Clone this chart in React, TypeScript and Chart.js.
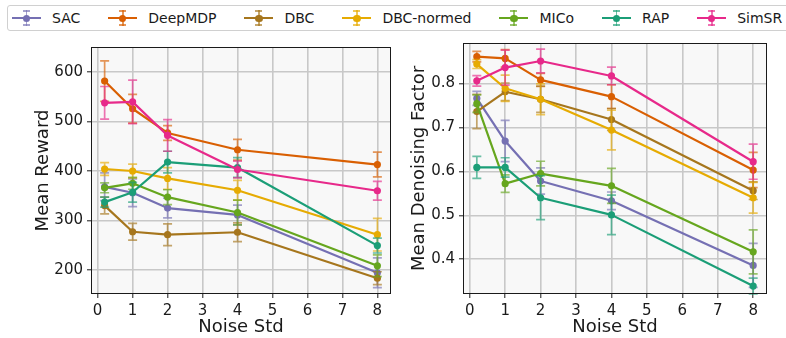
import React, { useEffect, useRef } from "react";
import { Chart, registerables } from "chart.js";

Chart.register(...registerables);

// ---------- data ----------
const noiseStd = [0.2, 1, 2, 4, 8];
const methods = ["SAC", "DeepMDP", "DBC", "DBC-normed", "MICo", "RAP", "SimSR"];
const colors = ["#7570b3", "#d95f02", "#a6761d", "#e6ab02", "#66a61e", "#1b9e77", "#e7298a"];

// Mean Reward
const rewardSAC = [368, 356, 325, 311, 194];
const rewardSACErr = [28, 28, 20, 20, 30];
const rewardDeepMDP = [582, 526, 477, 443, 413];
const rewardDeepMDPErr = [41, 29, 15, 21, 25];
const rewardDBC = [330, 277, 271, 276, 183];
const rewardDBCErr = [17, 17, 22, 19, 13];
const rewardDBCnormed = [404, 400, 385, 361, 271];
const rewardDBCnormedErr = [13, 14, 22, 20, 33];
const rewardMICo = [366, 375, 347, 316, 208];
const rewardMICoErr = [10, 12, 15, 25, 22];
const rewardRAP = [337, 357, 418, 407, 249];
const rewardRAPErr = [10, 20, 22, 20, 15];
const rewardSimSR = [538, 540, 472, 403, 360];
const rewardSimSRErr = [33, 44, 32, 17, 19];

// Mean Denoising Factor
const denoiseSAC = [0.766, 0.669, 0.578, 0.533, 0.386];
const denoiseSACErr = [0.016, 0.047, 0.03, 0.02, 0.05];
const denoiseDeepMDP = [0.861, 0.857, 0.808, 0.77, 0.603];
const denoiseDeepMDPErr = [0.012, 0.02, 0.015, 0.027, 0.04];
const denoiseDBC = [0.736, 0.781, 0.764, 0.718, 0.556];
const denoiseDBCErr = [0.039, 0.02, 0.03, 0.025, 0.02];
const denoiseDBCnormed = [0.844, 0.789, 0.764, 0.694, 0.54];
const denoiseDBCnormedErr = [0.01, 0.03, 0.035, 0.045, 0.035];
const denoiseMICo = [0.754, 0.572, 0.595, 0.567, 0.417];
const denoiseMICoErr = [0.02, 0.02, 0.028, 0.04, 0.05];
const denoiseRAP = [0.609, 0.609, 0.54, 0.501, 0.339];
const denoiseRAPErr = [0.025, 0.022, 0.05, 0.045, 0.018];
const denoiseSimSR = [0.806, 0.836, 0.851, 0.817, 0.622];
const denoiseSimSRErr = [0.012, 0.04, 0.027, 0.02, 0.04];

const xTicks = [0, 1, 2, 3, 4, 5, 6, 7, 8];
const rewardTicks = [200, 300, 400, 500, 600];
const denoiseTicks = [0.4, 0.5, 0.6, 0.7, 0.8];

const rewardMeans = [rewardSAC, rewardDeepMDP, rewardDBC, rewardDBCnormed, rewardMICo, rewardRAP, rewardSimSR];
const rewardErrs = [rewardSACErr, rewardDeepMDPErr, rewardDBCErr, rewardDBCnormedErr, rewardMICoErr, rewardRAPErr, rewardSimSRErr];
const denoiseMeans = [denoiseSAC, denoiseDeepMDP, denoiseDBC, denoiseDBCnormed, denoiseMICo, denoiseRAP, denoiseSimSR];
const denoiseErrs = [denoiseSACErr, denoiseDeepMDPErr, denoiseDBCErr, denoiseDBCnormedErr, denoiseMICoErr, denoiseRAPErr, denoiseSimSRErr];

const FONT = "'DejaVu Sans', sans-serif";
const TEXT = "#1a1a1a";

function hexA(hex: string, a: number) {
  const r = parseInt(hex.slice(1, 3), 16);
  const g = parseInt(hex.slice(3, 5), 16);
  const b = parseInt(hex.slice(5, 7), 16);
  return `rgba(${r},${g},${b},${a})`;
}

const framePlugin = {
  id: "frame",
  beforeDraw(chart: any) {
    const { ctx, chartArea: a } = chart;
    ctx.save();
    ctx.fillStyle = "#f8f8f8";
    ctx.fillRect(a.left, a.top, a.right - a.left, a.bottom - a.top);
    ctx.restore();
  },
  afterDatasetsDraw(chart: any) {
    const { ctx, chartArea: a } = chart;
    ctx.save();
    ctx.strokeStyle = "#1a1a1a";
    ctx.lineWidth = 1;
    ctx.strokeRect(Math.round(a.left) + 0.5, Math.round(a.top) + 0.5, Math.round(a.right - a.left) - 1, Math.round(a.bottom - a.top) - 1);
    ctx.restore();
  },
};

const errorBarPlugin = {
  id: "errorBars",
  beforeDatasetDraw(chart: any, args: any) {
    const ds = chart.data.datasets[args.index];
    const errs: number[] = ds.errors;
    if (!errs) return;
    const yScale = chart.scales.y;
    const { ctx } = chart;
    ctx.save();
    ctx.strokeStyle = hexA(ds.borderColor, 0.65);
    ctx.lineWidth = 1.7;
    args.meta.data.forEach((pt: any, i: number) => {
      const v = ds.data[i].y;
      const e = errs[i];
      const x = pt.x;
      const yt = yScale.getPixelForValue(v + e);
      const yb = yScale.getPixelForValue(v - e);
      const cap = 4.5;
      ctx.beginPath();
      ctx.moveTo(x, yt);
      ctx.lineTo(x, yb);
      ctx.moveTo(x - cap, yt);
      ctx.lineTo(x + cap, yt);
      ctx.moveTo(x - cap, yb);
      ctx.lineTo(x + cap, yb);
      ctx.stroke();
    });
    ctx.restore();
  },
};

type Geom = { yAxisWidth: number; padTop: number; padRight: number; yTitlePad: number; xAxisHeight: number };

function buildConfig(
  means: number[][],
  errs: number[][],
  yMin: number,
  yMax: number,
  yTicks: number[],
  yTitle: string,
  fmt: (v: number) => string,
  g: Geom
): any {
  const datasets = methods.map((m, i) => ({
    label: m,
    data: noiseStd.map((x, j) => ({ x, y: means[i][j] })),
    errors: errs[i],
    borderColor: colors[i],
    backgroundColor: colors[i],
    borderWidth: 2.2,
    pointRadius: 3.6,
    pointBorderWidth: 0,
    pointBackgroundColor: colors[i],
    borderJoinStyle: "round",
    tension: 0,
    order: methods.length - 1 - i,
  }));
  return {
    type: "line",
    data: { datasets },
    plugins: [framePlugin, errorBarPlugin],
    options: {
      animation: false,
      responsive: false,
      devicePixelRatio: 1,
      layout: { padding: { top: g.padTop, right: g.padRight, left: 0, bottom: 0 } },
      plugins: { legend: { display: false }, tooltip: { enabled: false } },
      scales: {
        x: {
          type: "linear",
          min: -0.19,
          max: 8.39,
          afterBuildTicks: (s: any) => {
            s.ticks = xTicks.map((v) => ({ value: v }));
          },
          afterFit: (s: any) => {
            s.height = g.xAxisHeight;
            s.paddingLeft = 0;
            s.paddingRight = 0;
          },
          grid: { color: "#c8c8c8", lineWidth: 1.6, tickLength: 4, tickColor: "#1a1a1a", tickWidth: 1 },
          border: { display: false },
          ticks: {
            font: { family: FONT, size: 15 },
            color: TEXT,
            padding: 4,
            maxRotation: 0,
            autoSkip: false,
            callback: (v: any) => String(v),
          },
          title: {
            display: true,
            text: "Noise Std",
            font: { family: FONT, size: 18 },
            color: TEXT,
            padding: { top: 0, bottom: 0 },
          },
        },
        y: {
          type: "linear",
          min: yMin,
          max: yMax,
          afterBuildTicks: (s: any) => {
            s.ticks = yTicks.map((v) => ({ value: v }));
          },
          afterFit: (s: any) => {
            s.width = g.yAxisWidth;
            s.paddingTop = 0;
            s.paddingBottom = 0;
          },
          grid: { color: "#c8c8c8", lineWidth: 1.6, tickLength: 4, tickColor: "#1a1a1a", tickWidth: 1 },
          border: { display: false },
          ticks: {
            font: { family: FONT, size: 15 },
            color: TEXT,
            padding: 4,
            autoSkip: false,
            callback: (v: any) => fmt(Number(v)),
          },
          title: {
            display: true,
            text: yTitle,
            font: { family: FONT, size: 18 },
            color: TEXT,
            padding: { top: g.yTitlePad, bottom: 0 },
          },
        },
      },
    },
  };
}

function ChartCanvas(props: { config: () => any; left: number; top: number; width: number; height: number }) {
  const ref = useRef<HTMLCanvasElement | null>(null);
  useEffect(() => {
    if (!ref.current) return;
    const chart = new Chart(ref.current, props.config());
    return () => chart.destroy();
  }, []);
  return (
    <canvas
      ref={ref}
      width={props.width}
      height={props.height}
      style={{ position: "absolute", left: props.left, top: props.top, width: props.width, height: props.height }}
    />
  );
}

function LegendIcon({ color }: { color: string }) {
  const c = hexA(color, 0.65);
  return (
    <div style={{ position: "relative", width: 29, height: 18, marginRight: 11, flex: "0 0 auto" }}>
      <div style={{ position: "absolute", left: 0, top: 8, width: 29, height: 2.2, background: color }} />
      <div style={{ position: "absolute", left: 13.7, top: 1, width: 1.7, height: 16, background: c }} />
      <div style={{ position: "absolute", left: 11, top: 1, width: 7, height: 1.7, background: c }} />
      <div style={{ position: "absolute", left: 11, top: 15.3, width: 7, height: 1.7, background: c }} />
      <div style={{ position: "absolute", left: 11, top: 5.5, width: 7.2, height: 7.2, borderRadius: "50%", background: color }} />
    </div>
  );
}

export default function App() {
  return (
    <div style={{ position: "fixed", left: 0, top: 0, width: 786, height: 338, background: "#ffffff", overflow: "hidden" }}>
      <div
        style={{
          position: "absolute",
          left: 7,
          top: 5,
          width: 800,
          height: 26,
          boxSizing: "border-box",
          border: "1px solid #d0d0d0",
          borderRadius: 3,
          background: "#ffffff",
          display: "flex",
          alignItems: "center",
          paddingLeft: 4,
          fontFamily: FONT,
          fontSize: 14,
          color: TEXT,
          whiteSpace: "nowrap",
        }}
      >
        {methods.map((m, i) => (
          <div key={m} style={{ display: "flex", alignItems: "center", marginRight: 28 }}>
            <LegendIcon color={colors[i]} />
            <span>{m}</span>
          </div>
        ))}
      </div>
      <ChartCanvas
        left={0}
        top={35}
        width={398}
        height={303}
        config={() =>
          buildConfig(rewardMeans, rewardErrs, 151, 651, rewardTicks, "Mean Reward", (v) => String(v), {
            yAxisWidth: 91,
            padTop: 12,
            padRight: 7,
            yTitlePad: 32.5,
            xAxisHeight: 44,
          })
        }
      />
      <ChartCanvas
        left={398}
        top={35}
        width={388}
        height={303}
        config={() =>
          buildConfig(denoiseMeans, denoiseErrs, 0.321, 0.892, denoiseTicks, "Mean Denoising Factor", (v) => v.toFixed(1), {
            yAxisWidth: 65,
            padTop: 8,
            padRight: 19,
            yTitlePad: 10.7,
            xAxisHeight: 44,
          })
        }
      />
    </div>
  );
}
